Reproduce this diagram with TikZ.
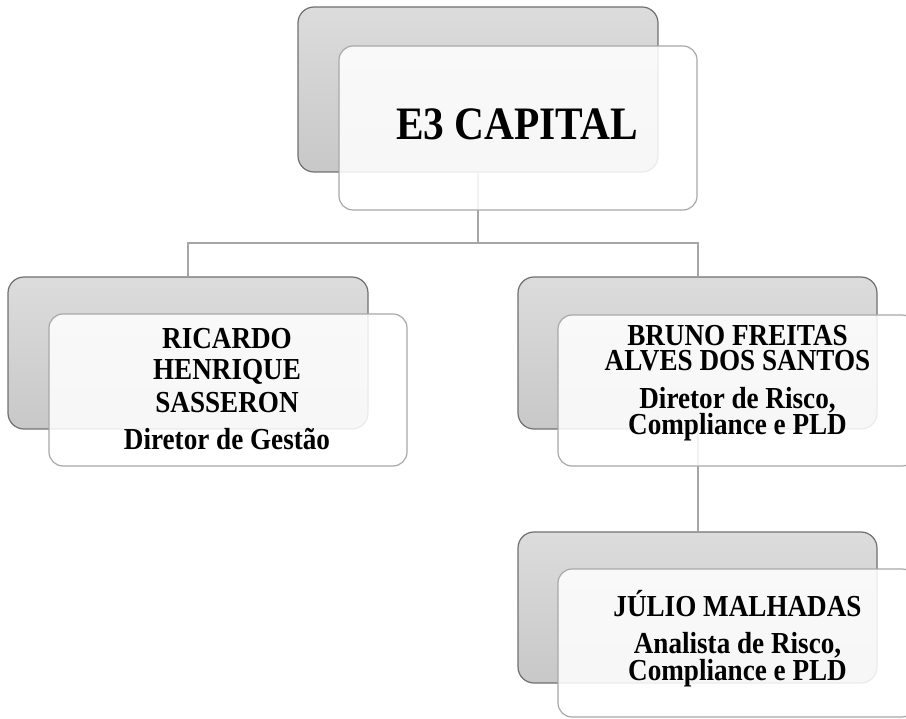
\documentclass[tikz,border=0pt]{standalone}
\usepackage{fontspec}
\setmainfont{Liberation Serif}[FakeStretch=0.89]
\usetikzlibrary{backgrounds}
\definecolor{backtop}{HTML}{DCDCDC}
\definecolor{backbot}{HTML}{C8C8C8}
\definecolor{backline}{HTML}{707070}
\definecolor{frontline}{HTML}{A8A8A8}
\definecolor{connline}{HTML}{A6A6A6}
\tikzset{
  backbox/.style={rectangle, rounded corners=16pt, draw=backline, line width=1.2pt,
    top color=backtop, bottom color=backbot, inner sep=0pt,
    minimum width=360pt, minimum height=152pt},
  frontbox/.style={rectangle, rounded corners=14pt, draw=frontline, line width=1.2pt,
    fill=white, fill opacity=0.86, draw opacity=1, inner sep=0pt,
    minimum width=358pt, minimum height=152pt},
  conn/.style={draw=connline, line width=2pt},
  nametext/.style={anchor=base, inner sep=0pt, align=center, font=\bfseries\fontsize{30.5}{25}\selectfont},
  titletext/.style={anchor=base, inner sep=0pt, font=\bfseries\fontsize{46.5}{46}\selectfont},
}
\begin{document}
\begin{tikzpicture}[x=1pt, y=-1pt]
\useasboundingbox (0,0) rectangle (906,719);
% top
\node[backbox, minimum height=165pt] (tb) at (478,89.5) {};
\node[frontbox, minimum height=164pt] (tf) at (518,128) {};
% left
\node[backbox] (lb) at (188,353) {};
\node[frontbox] (lf) at (228,390) {};
% right
\node[backbox, minimum width=359pt] (rb) at (697.5,353) {};
\node[frontbox, minimum height=151pt] (rf) at (737,390.5) {};
% bottom
\node[backbox, minimum width=359pt, minimum height=151pt] (bb) at (697.5,607.5) {};
\node[frontbox, minimum height=148pt] (bf) at (737,643) {};
% texts (base anchor = baseline of the last line)
\node[titletext] (t0) at (517,140) {E3 CAPITAL};
\node[nametext] (t1) at (227,450) {RICARDO\\[6.5pt]HENRIQUE\\[6pt]SASSERON\\[13pt]Diretor de Gestão};
\node[nametext] (t5) at (737.5,435) {BRUNO FREITAS\\ALVES DOS SANTOS\\[13pt]Diretor de Risco,\\Compliance e PLD};
\node[nametext] (t9) at (737.5,680) {JÚLIO MALHADAS\\[12pt]Analista de Risco,\\Compliance e PLD};
\coordinate (hbar) at (478,243);
\begin{pgfonlayer}{background}
\draw[conn] (tb.south) -- (hbar);
\draw[conn] (lb.north) |- (hbar) -| (rb.north);
\draw[conn] (rb.south) -- (bb.north);
\end{pgfonlayer}
\end{tikzpicture}
\end{document}
